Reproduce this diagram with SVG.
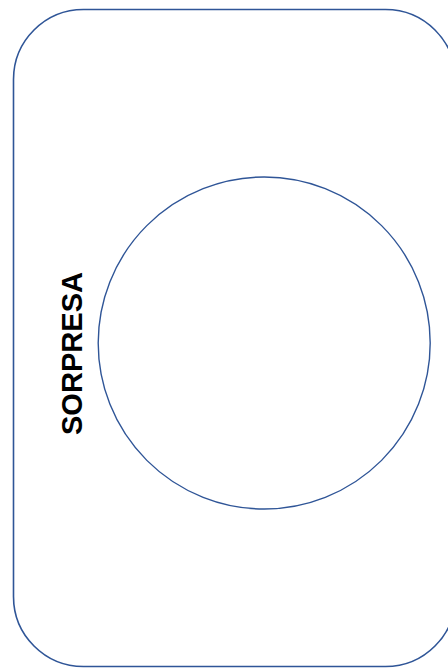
<svg xmlns="http://www.w3.org/2000/svg" width="448" height="668" viewBox="0 0 448 668">
<style>
.shape{fill:none;stroke:#2F5597;}
.lbl{font-family:"Liberation Sans",Arial,sans-serif;font-size:30px;font-weight:bold;fill:#000;}
</style>
<rect width="448" height="668" fill="#fff"/>
<g id="frame"><rect class="shape" x="13.5" y="9.5" width="442" height="657" rx="70" ry="70" stroke-width="1.6"/></g>
<g id="circle"><circle class="shape" cx="264.2" cy="343" r="166" stroke-width="1.4"/></g>
<g id="label"><text class="lbl" transform="translate(82,353.5) rotate(-90)" text-anchor="middle" textLength="163" lengthAdjust="spacingAndGlyphs">SORPRESA</text></g>
<g id="connectors"/>
</svg>
